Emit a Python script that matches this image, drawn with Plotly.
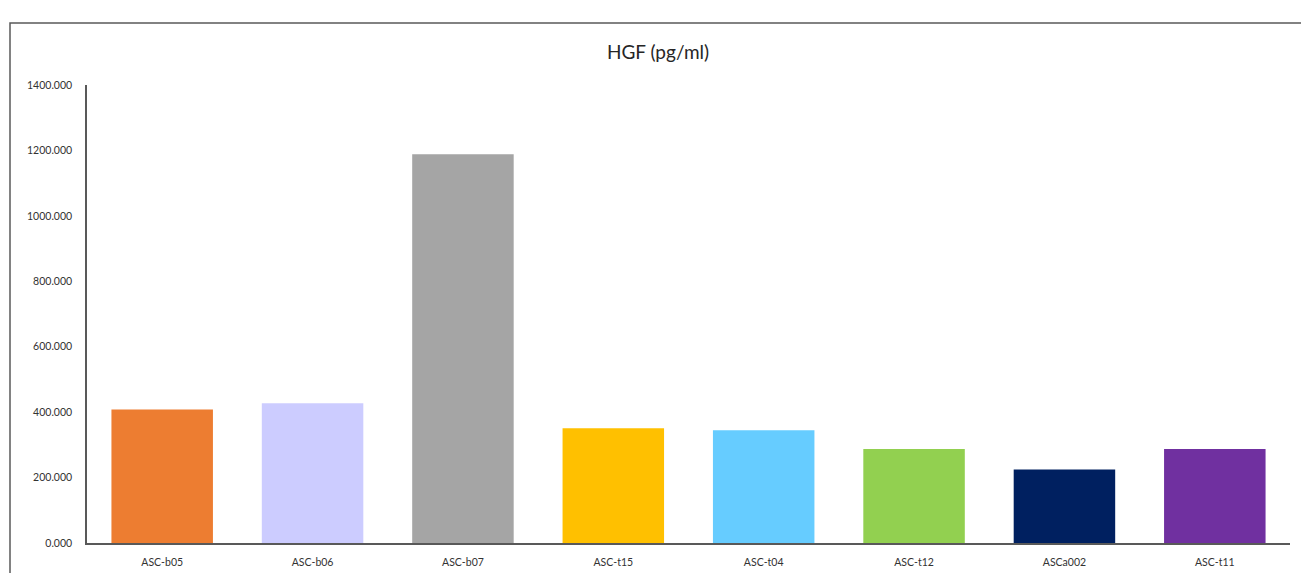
import plotly.graph_objects as go

categories = ["ASC-b05", "ASC-b06", "ASC-b07", "ASC-t15", "ASC-t04", "ASC-t12", "ASCa002", "ASC-t11"]
hgf_values = [408, 427, 1188, 351, 345, 287, 225, 287]
bar_colors = ["#ED7D31", "#CCCCFF", "#A5A5A5", "#FFC000", "#66CCFF", "#92D050", "#002060", "#7030A0"]
y_ticks = [0, 200, 400, 600, 800, 1000, 1200, 1400]
y_tick_labels = [f"{v:.3f}" for v in y_ticks]

W, H = 1301, 573
ml, mr, mt, mb = 87, 11, 85, 30
pw, ph = W - ml - mr, H - mt - mb

fig = go.Figure(go.Bar(
    x=categories, y=hgf_values,
    marker=dict(color=bar_colors, line=dict(width=0)),
    width=0.675,
))


def px_to_paper_x(px):
    return (px - ml) / pw


def px_to_paper_y(py):
    return (H - mb - py) / ph


fig.update_layout(
    width=W, height=H,
    margin=dict(l=ml, r=mr, t=mt, b=mb),
    paper_bgcolor="white", plot_bgcolor="white",
    showlegend=False,
    font=dict(family="Lato, Carlito, sans-serif", color="#333333", size=10),
    title=dict(text="HGF (pg/ml)", x=658 / W, xref="container", xanchor="center",
               y=1 - 52 / H, yref="container", yanchor="middle",
               font=dict(family="Lato, Carlito, sans-serif", size=19, color="#262626")),
    xaxis=dict(showline=True, linecolor="#595959", linewidth=1.5, ticks="",
               ticklabelstandoff=9, automargin=False,
               tickfont=dict(size=10.5, color="#333333"), showgrid=False),
    yaxis=dict(range=[0, 1400], tickvals=y_ticks, ticktext=y_tick_labels,
               showline=True, linecolor="#595959", linewidth=1.5, ticks="",
               ticklabelstandoff=11, showgrid=False, zeroline=False, automargin=False,
               tickfont=dict(size=10.5, color="#333333")),
    bargap=0.325,
    shapes=[dict(type="rect", xref="paper", yref="paper",
                 x0=px_to_paper_x(10), x1=px_to_paper_x(1320),
                 y0=px_to_paper_y(590), y1=px_to_paper_y(23),
                 line=dict(color="#595959", width=1.5), fillcolor="rgba(0,0,0,0)",
                 layer="above")],
)

fig.write_html("out.html")
